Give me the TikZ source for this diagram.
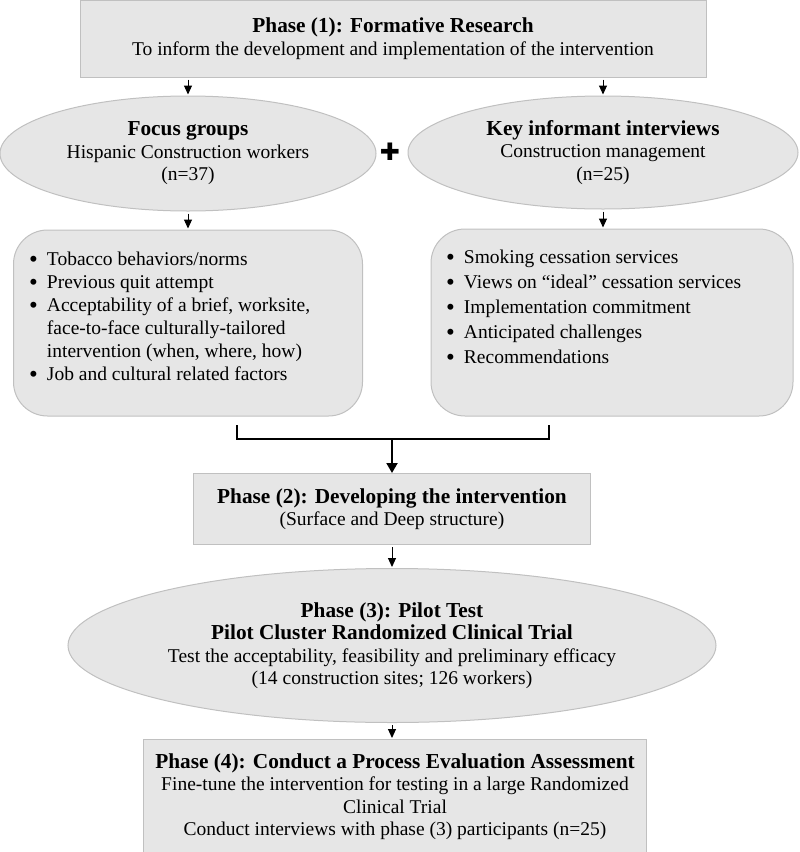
\documentclass[tikz,border=0pt]{standalone}
\usepackage{fontspec}
\setmainfont{Liberation Serif}
\newfontfamily\crossfont{DejaVu Sans}
\usepackage{xcolor}
\definecolor{phfill}{RGB}{230, 230, 230}
\definecolor{phline}{RGB}{192, 192, 192}
\usepackage{tikz}
\usetikzlibrary{shapes, arrows.meta, positioning}
\newcommand{\headtext}[1]{{\fontsize{21.3}{22.5}\selectfont\bfseries #1}}
\newcommand{\dotmark}{\raisebox{-2.6pt}{\fontsize{25}{23}\selectfont\textbullet}}

\begin{document}
\begin{tikzpicture}[
        x=1pt, y=-1pt,
        font=\fontsize{19.5}{22.5}\selectfont,
        phase/.style={
            rectangle,
            draw=phline,
            fill=phfill,
            line width=1pt,
            align=center,
            inner sep=0pt
        },
        oval/.style={
            ellipse,
            draw=phline,
            fill=phfill,
            line width=1pt,
            align=center,
            inner sep=0pt
        },
        listbox/.style={
            rectangle,
            draw=phline,
            fill=phfill,
            line width=1pt,
            rounded corners=34pt
        },
        arrow/.style={-{Triangle[length=9pt, width=8pt]}, line width=1pt, shorten <=2pt, shorten >=1pt},
        bigarrow/.style={-{Triangle[length=10pt, width=11pt]}, line width=2pt},
        bracket/.style={line width=2pt}
    ]
        \useasboundingbox (0,0) rectangle (800,852);

        \node[phase, minimum width=626pt, minimum height=77pt] (ph1) at (393,38.5)
            {\headtext{Phase (1): Formative Research}\\To inform the development and implementation of the intervention};
        \node[oval, minimum width=376pt, minimum height=115pt] (fg) at (188,153.5)
            {\headtext{Focus groups}\\Hispanic Construction workers\\(n=37)};
        \node[oval, minimum width=390pt, minimum height=113pt] (ki) at (603,152.5)
            {\headtext{Key informant interviews}\\Construction management\\(n=25)};
        \node (plus) at (390,152) {\crossfont\fontsize{24}{24}\selectfont ✚};

        \node[listbox, minimum width=349pt, minimum height=186pt, below=18pt of fg] (fgbox) {};
        \node[listbox, minimum width=362pt, minimum height=187pt, below=19pt of ki, xshift=9pt] (kibox) {};
        \node[anchor=base west, inner sep=0pt] (fglist) at (29,265) {\fontsize{19.5}{23}\selectfont
            \begin{tabular}[t]{@{}l@{\hspace{9pt}}l@{}}
                \dotmark & Tobacco behaviors/norms\\
                \dotmark & Previous quit attempt\\
                \dotmark & Acceptability of a brief, worksite,\\
                         & face-to-face culturally-tailored\\
                         & intervention (when, where, how)\\
                \dotmark & Job and cultural related factors
            \end{tabular}};
        \node[anchor=base west, inner sep=0pt] (kilist) at (446,263) {\fontsize{19.5}{25}\selectfont
            \begin{tabular}[t]{@{}l@{\hspace{9pt}}l@{}}
                \dotmark & Smoking cessation services\\
                \dotmark & Views on “ideal” cessation services\\
                \dotmark & Implementation commitment\\
                \dotmark & Anticipated challenges\\
                \dotmark & Recommendations
            \end{tabular}};

        % bracket joining the two lists
        \coordinate (brl) at (237,425);
        \coordinate (brr) at (549,425);
        \coordinate (brm) at (392,439);

        \node[phase, minimum width=397pt, minimum height=71pt, below=34pt of brm] (ph2)
            {\headtext{Phase (2): Developing the intervention}\\(Surface and Deep structure)};
        \node[oval, minimum width=648pt, minimum height=154pt, below=23pt of ph2] (ph3)
            {\headtext{Phase (3): Pilot Test}\\\headtext{Pilot Cluster Randomized Clinical Trial}\\Test the acceptability, feasibility and preliminary efficacy\\(14 construction sites; 126 workers)};
        \node[phase, minimum width=503pt, minimum height=114pt, below=16pt of ph3, xshift=3pt] (ph4)
            {\headtext{Phase (4): Conduct a Process Evaluation Assessment}\\Fine-tune the intervention for testing in a large Randomized\\Clinical Trial\\Conduct interviews with phase (3) participants (n=25)};

        \draw[arrow] (ph1.south -| fg.north) -- (fg.north);
        \draw[arrow] (ph1.south -| ki.north) -- (ki.north);
        \draw[arrow] (fg.south) -- (fg.south |- fgbox.north);
        \draw[arrow] (ki.south) -- (ki.south |- kibox.north);
        \draw[bracket] (brl) -- (brl |- brm) -- (brr |- brm) -- (brr);
        \draw[bigarrow] (brm) -- (ph2.north);
        \draw[arrow] (ph2) -- (ph3);
        \draw[arrow] (ph3.south) -- (ph3.south |- ph4.north);

    \end{tikzpicture}
\end{document}
